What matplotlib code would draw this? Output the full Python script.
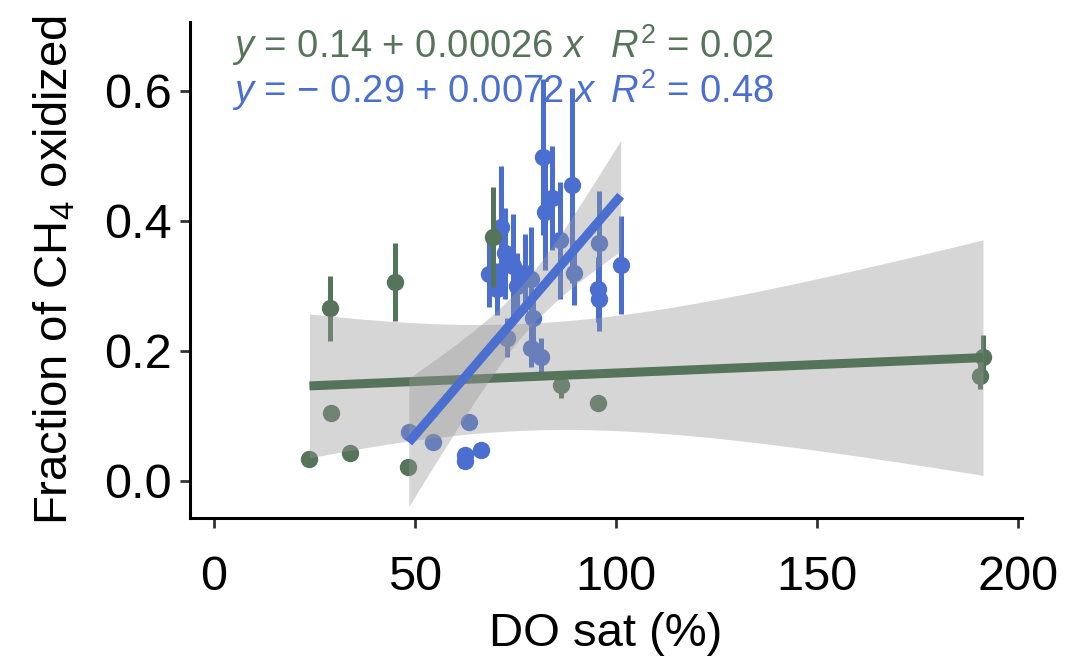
import numpy as np
import matplotlib
matplotlib.use("Agg")
import matplotlib.pyplot as plt

plt.rcParams['font.family'] = ['Liberation Sans', 'DejaVu Sans']
plt.rcParams['mathtext.fontset'] = 'custom'
plt.rcParams['mathtext.rm'] = 'Liberation Sans'
plt.rcParams['mathtext.it'] = 'Liberation Sans:italic'

# green group: DO sat (%), fraction oxidized, error
green_x = [23.8, 29.2, 29.0, 33.9, 45.0, 48.3, 69.5, 86.3, 95.5, 191.3, 190.5]
green_y = [0.033, 0.105, 0.266, 0.043, 0.306, 0.022, 0.375, 0.148, 0.120, 0.190, 0.162]
green_err = [0.0, 0.0, 0.05, 0.0, 0.06, 0.0, 0.077, 0.02, 0.012, 0.035, 0.02]

# blue group
blue_x = [48.5, 54.5, 63.5, 62.5, 62.5, 66.5, 68.5, 70.5, 71.5, 72.5, 73.0, 74.5, 75.5, 77.5,
          79.0, 79.5, 79.0, 81.5, 82.0, 82.5, 84.0, 86.0, 89.2, 89.5, 95.8, 95.5, 95.8, 101.2]
blue_y = [0.075, 0.060, 0.090, 0.040, 0.030, 0.047, 0.318, 0.295, 0.390, 0.350, 0.220, 0.330, 0.300, 0.320,
          0.310, 0.250, 0.205, 0.190, 0.498, 0.414, 0.435, 0.370, 0.455, 0.320, 0.366, 0.295, 0.280, 0.332]
blue_err = [0.0, 0.0, 0.0, 0.0, 0.0, 0.0, 0.05, 0.04, 0.095, 0.07, 0.03, 0.08, 0.05, 0.06,
            0.08, 0.04, 0.03, 0.03, 0.12, 0.09, 0.08, 0.09, 0.15, 0.05, 0.08, 0.05, 0.05, 0.075]

# fitted coefficients and R2 as printed on the chart
green_fit = (0.14, 0.00026)
blue_fit = (-0.29, 0.0072)
green_r2 = 0.02
blue_r2 = 0.48

green_col = "#557459"
blue_col = "#4a6fd0"

# two sided 95% t quantiles
t95 = {9: 2.262, 26: 2.056}


def ci_band(x, y, fit):
    x = np.asarray(x)
    y = np.asarray(y)
    n = len(x)
    a, b = fit
    resid = y - (a + b * x)
    s = np.sqrt(np.sum(resid ** 2) / (n - 2))
    sxx = np.sum((x - x.mean()) ** 2)
    xs = np.linspace(x.min(), x.max(), 80)
    ys = a + b * xs
    half = t95[n - 2] * s * np.sqrt(1 / n + (xs - x.mean()) ** 2 / sxx)
    return xs, ys, half


fig = plt.figure(figsize=(10.81, 6.63), dpi=100)
ax = fig.add_axes([190 / 1081, 145 / 663, 832 / 1081, 496 / 663])

for xs_, ys_, es_, c, z in [(blue_x, blue_y, blue_err, blue_col, 2), (green_x, green_y, green_err, green_col, 3)]:
    ax.errorbar(xs_, ys_, yerr=es_, fmt='o', color=c, ms=11.5, elinewidth=3.6, capsize=0, zorder=z)

for gx, gy, fit, c, z in [(green_x, green_y, green_fit, green_col, 4), (blue_x, blue_y, blue_fit, blue_col, 6)]:
    xs, ys, half = ci_band(gx, gy, fit)
    ax.fill_between(xs, ys - half, ys + half, color="#999999", alpha=0.4, lw=0, zorder=z)
    ax.plot(xs, ys, color=c, lw=6.5, solid_capstyle='butt', zorder=z + 0.5)

ax.set_xlim(-5.9, 201)
ax.set_ylim(-0.057, 0.706)
ax.set_xticks([0, 50, 100, 150, 200])
ax.set_yticks([0.0, 0.2, 0.4, 0.6])
ax.set_yticklabels(["0.0", "0.2", "0.4", "0.6"])

for s in ['top', 'right']:
    ax.spines[s].set_visible(False)
for s in ['left', 'bottom']:
    ax.spines[s].set_linewidth(2.2)
ax.tick_params(direction='out', length=7, width=2, color="#333333", labelsize=35, pad=6)
ax.tick_params(axis='x', pad=20)

ax.set_xlabel("DO sat (%)", fontsize=34, labelpad=8)
ax.set_ylabel("Fraction of CH$_4$ oxidized", fontsize=34, labelpad=19)

txt_g = r"$\it{y}$ = %.2f + %.5f $\it{x}$" % green_fit
txt_b = "$\\it{y}$ = \u2212 %.2f + %.4f $\\it{x}$" % (abs(blue_fit[0]), blue_fit[1])
ax.text(4.5, 0.667, txt_g, color=green_col, fontsize=27.5, va='center', zorder=10)
ax.text(4.5, 0.598, txt_b, color=blue_col, fontsize=27.5, va='center', zorder=10)
ax.text(98.5, 0.667, r"$\it{R}^2$ = %.2f" % green_r2, color=green_col, fontsize=27.5, va='center', zorder=10)
ax.text(98.5, 0.598, r"$\it{R}^2$ = %.2f" % blue_r2, color=blue_col, fontsize=27.5, va='center', zorder=10)

fig.savefig("out.png", dpi=100)
